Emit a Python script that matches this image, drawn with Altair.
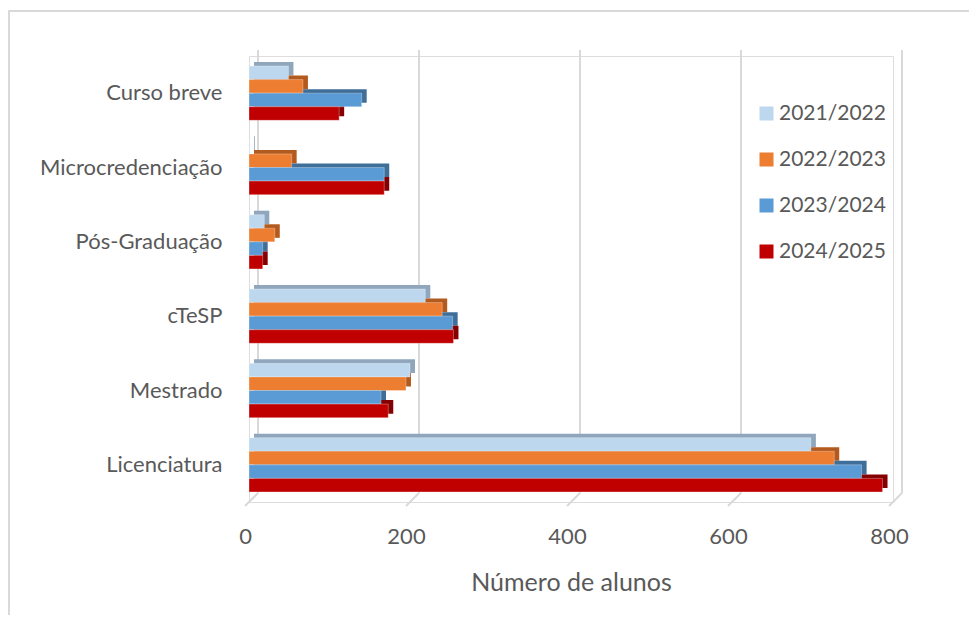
import altair as alt
import pandas as pd

categories = ["Curso breve", "Microcredenciação", "Pós-Graduação", "cTeSP", "Mestrado", "Licenciatura"]
years = ["2021/2022", "2022/2023", "2023/2024", "2024/2025"]
colors = ["#BDD7EE", "#ED7D31", "#5B9BD5", "#C00000"]
dark_colors = ["#8FA6BC", "#B35B1E", "#3F6E99", "#850000"]

v2021 = [49, 1, 19, 219, 200, 698]
v2022 = [67, 53, 32, 240, 195, 727]
v2023 = [140, 168, 17, 253, 164, 761]
v2024 = [112, 168, 17, 254, 173, 787]

grid_values = [0, 200, 400, 600, 800]

rows = []
for yr, dk, vals in zip(years, dark_colors, [v2021, v2022, v2023, v2024]):
    for c, v in zip(categories, vals):
        rows.append({"Tipo": c, "Ano": yr, "Alunos": v, "dark": dk})
df = pd.DataFrame(rows)
grid_df = pd.DataFrame({"g": grid_values})
frame_df = pd.DataFrame({"f": [0]})

FONT = "Lato"
GREY = "#595959"
GRIDC = "#d9d9d9"
W, H = 644, 446

xscale = alt.Scale(domain=[0, 800], nice=False)
yoff = alt.YOffset("Ano:N", sort=years)

frame = alt.Chart(frame_df).mark_rect(fill=None, stroke=GRIDC, strokeWidth=2).encode(
    x=alt.value(-240), x2=alt.value(760), y=alt.value(-45), y2=alt.value(700)
)

grid_v = alt.Chart(grid_df).mark_rule(color=GRIDC, strokeWidth=2, xOffset=9).encode(
    x=alt.X("g:Q", scale=xscale,
            axis=alt.Axis(title="Número de alunos", values=grid_values,
                          labelFontSize=22, labelColor=GREY, labelFont=FONT, labelOffset=-4,
                          labelFlush=False,
                          titleFontSize=25, titleColor=GREY, titleFont=FONT, titleFontWeight="normal",
                          titlePadding=23, labelPadding=24, ticks=False, domain=False, grid=False)),
    y=alt.value(-6), y2=alt.value(437),
)
grid_d = alt.Chart(grid_df).mark_rule(color=GRIDC, strokeWidth=2, xOffset=9, x2Offset=-4).encode(
    x=alt.X("g:Q", scale=xscale), x2="g:Q",
    y=alt.value(437), y2=alt.value(450),
)

back = alt.Chart(df).mark_bar(xOffset=5, x2Offset=5).encode(
    y=alt.Y("Tipo:N", sort=categories,
            scale=alt.Scale(paddingInner=0.27, paddingOuter=0.135, range=[-4, H - 4]),
            axis=None),
    yOffset=yoff,
    x=alt.X("Alunos:Q", scale=xscale),
    color=alt.Color("dark:N", scale=None),
)

front = alt.Chart(df).mark_bar(stroke="#ffffff", strokeWidth=0.6, strokeOpacity=0.5).encode(
    y=alt.Y("Tipo:N", sort=categories,
            scale=alt.Scale(paddingInner=0.27, paddingOuter=0.135),
            axis=alt.Axis(title=None, labelFontSize=22, labelColor=GREY, labelFont=FONT,
                          ticks=False, domain=False, labelPadding=27, labelLimit=400)),
    yOffset=yoff,
    x=alt.X("Alunos:Q", scale=xscale),
    color=alt.Color("Ano:N", sort=years, scale=alt.Scale(domain=years, range=colors),
                    legend=alt.Legend(title=None, orient="none", legendX=507, legendY=47,
                                      symbolType="square", symbolSize=196, symbolStrokeWidth=0,
                                      labelFontSize=21, labelColor=GREY, labelFont=FONT,
                                      rowPadding=24, labelOffset=2)),
)

chart = alt.layer(frame, grid_v, grid_d, back, front).resolve_scale(
    y="independent"
).properties(
    width=W, height=H,
    autosize=alt.AutoSizeParams(type="none"),
    padding={"left": 241, "top": 48, "right": 76, "bottom": 113},
).configure_view(stroke=None).configure(background="white")

chart.save("out.html", embed_options={"renderer": "svg", "actions": False})
